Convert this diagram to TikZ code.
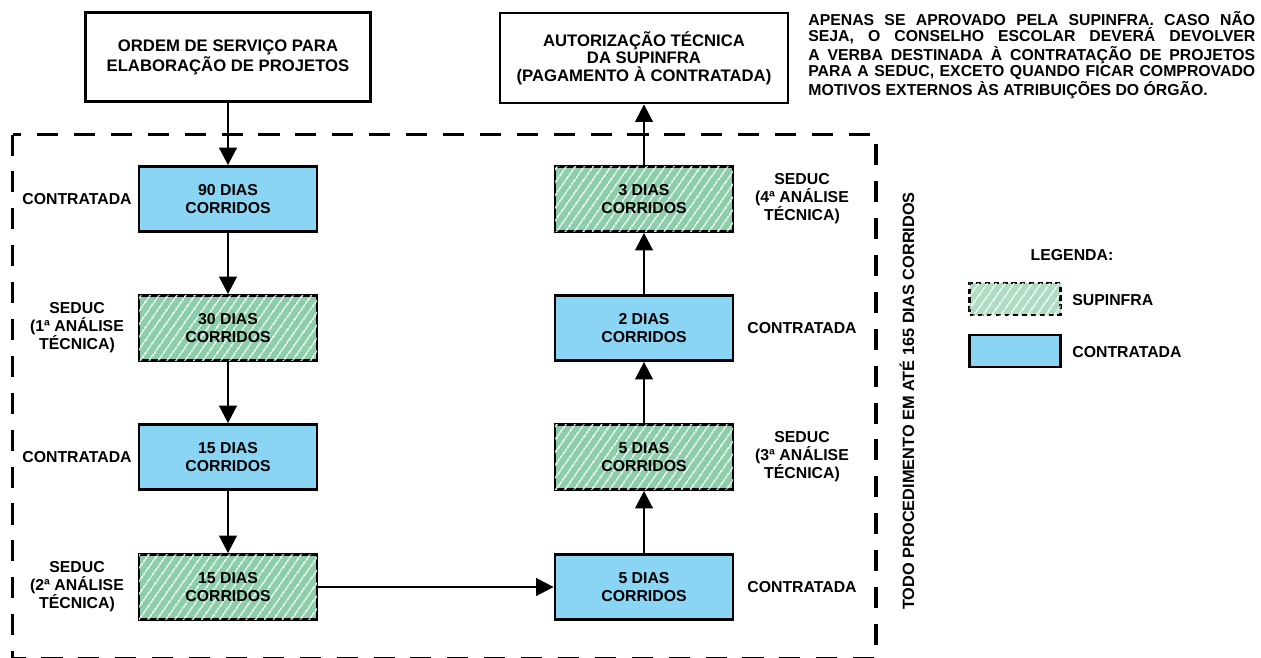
\documentclass[tikz,border=0pt]{standalone}
\usepackage{fontspec}
\setmainfont{Liberation Sans}
\usetikzlibrary{arrows.meta,patterns.meta}
\definecolor{contrblue}{HTML}{8AD4F4}
\definecolor{supgreen}{HTML}{8CCDAA}

\begin{document}
\begin{tikzpicture}
    [x=0.02cm,y=-0.02cm,
     every node/.style={font=\fontsize{9}{10.2}\selectfont\bfseries,align=center,inner sep=0pt},
     topbox/.style={draw,line width=1.6pt,minimum width=5.7cm,minimum height=1.78cm},
     contr/.style={draw,line width=1.6pt,fill=contrblue,minimum width=3.56cm,minimum height=1.3cm},
     supin/.style={draw,line width=1.6pt,fill=supgreen,minimum width=3.56cm,minimum height=1.3cm,
       postaction={pattern={Lines[angle=55,distance=4pt,line width=0.8pt]},pattern color=white}},
     flow/.style={line width=1.5pt,-{Triangle[length=10pt,width=10pt]}}]
    \useasboundingbox (0,0) rectangle (1261,657);

    \node[topbox,font=\fontsize{9.5}{8.9}\selectfont\bfseries] (os) at (228,57) {ORDEM DE SERVIÇO PARA\\ELABORAÇÃO DE PROJETOS};
    \node[topbox,minimum width=5.76cm,minimum height=1.8cm,font=\fontsize{9.5}{10}\selectfont\bfseries] (aut) at (644,58) {AUTORIZAÇÃO TÉCNICA\\DA SUPINFRA\\(PAGAMENTO À CONTRATADA)};

    \node[anchor=north west,text width=8.94cm,align=justify,font=\fontsize{9}{9.4}\selectfont\bfseries] (nota) at (808,11)
      {APENAS SE APROVADO PELA SUPINFRA. CASO NÃO\linebreak SEJA, O CONSELHO ESCOLAR DEVERÁ DEVOLVER\linebreak A VERBA DESTINADA À CONTRATAÇÃO DE PROJETOS\linebreak PARA A SEDUC, EXCETO QUANDO FICAR COMPROVADO\linebreak MOTIVOS EXTERNOS ÀS ATRIBUIÇÕES DO ÓRGÃO.};

    \draw[line width=2.2pt,dash pattern=on 12pt off 9pt] (12.5,134.5) rectangle (876,659);

    \node[contr] (c90) at (228,199) {90 DIAS\\CORRIDOS};
    \node[supin] (s30) at (228,328) {30 DIAS\\CORRIDOS};
    \node[contr] (c15) at (228,457) {15 DIAS\\CORRIDOS};
    \node[supin] (s15) at (228,587) {15 DIAS\\CORRIDOS};
    \node[contr] (c5) at (644,587) {5 DIAS\\CORRIDOS};
    \node[supin] (s5) at (644,457) {5 DIAS\\CORRIDOS};
    \node[contr] (c2) at (644,328) {2 DIAS\\CORRIDOS};
    \node[supin] (s3) at (644,199) {3 DIAS\\CORRIDOS};

    \node (l90) at (77,199) {CONTRATADA};
    \node (l30) at (77,328) {SEDUC\\(1ª ANÁLISE\\TÉCNICA)};
    \node (l15) at (77,457) {CONTRATADA};
    \node (l15b) at (77,587) {SEDUC\\(2ª ANÁLISE\\TÉCNICA)};
    \node (l5) at (802,587) {CONTRATADA};
    \node (l5b) at (802,457) {SEDUC\\(3ª ANÁLISE\\TÉCNICA)};
    \node (l2) at (802,328) {CONTRATADA};
    \node (l3) at (802,199) {SEDUC\\(4ª ANÁLISE\\TÉCNICA)};

    \draw[flow] (os) -- (c90);
    \draw[flow] (c90) -- (s30);
    \draw[flow] (s30) -- (c15);
    \draw[flow] (c15) -- (s15);
    \draw[flow] (s15) -- (c5);
    \draw[flow] (c5) -- (s5);
    \draw[flow] (s5) -- (c2);
    \draw[flow] (c2) -- (s3);
    \draw[flow] (s3) -- (aut);

    \node[rotate=90,font=\fontsize{9.3}{10}\selectfont\bfseries] (total) at (907,401) {TODO PROCEDIMENTO EM ATÉ 165 DIAS CORRIDOS};

    \node (leg) at (1072,255) {LEGENDA:};
    \node[supin,fill=supgreen!70,line width=1.2pt,densely dashed,minimum width=1.82cm,minimum height=0.64cm] (kS) at (1015,299) {};
    \node[contr,line width=1.4pt,minimum width=1.82cm,minimum height=0.64cm] (kC) at (1015,351) {};
    \node[anchor=west] (kSt) at (1072,300) {SUPINFRA};
    \node[anchor=west] (kCt) at (1072,352) {CONTRATADA};
\end{tikzpicture}
\end{document}
